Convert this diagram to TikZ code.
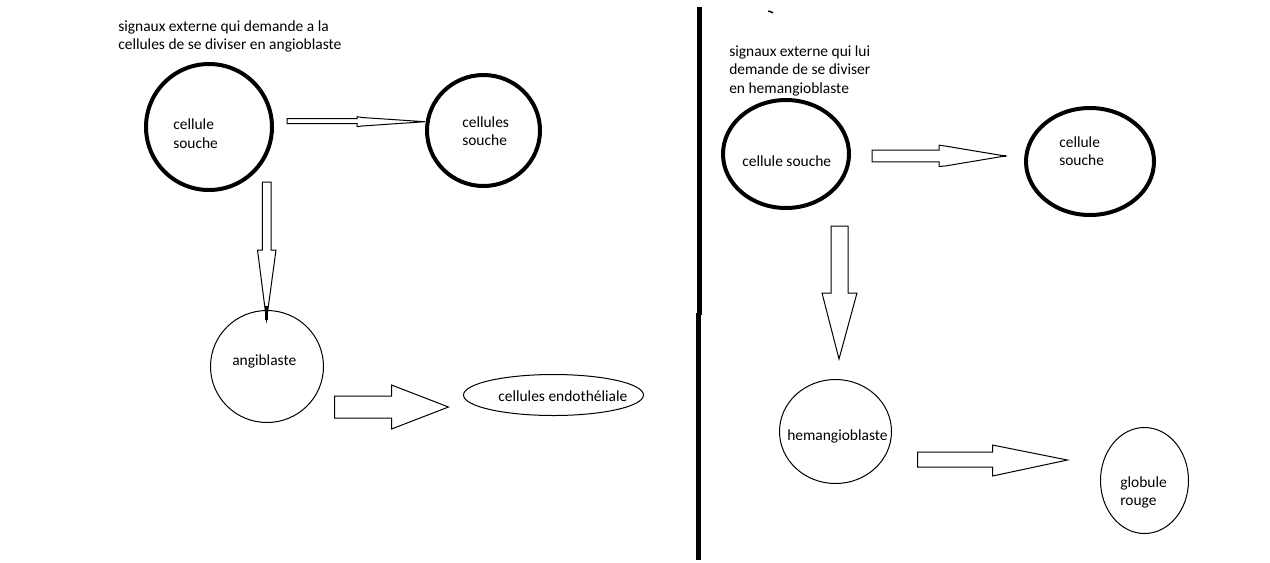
\documentclass[tikz,border=0pt]{standalone}
\usepackage{fontspec}
\setmainfont{Carlito}
\usetikzlibrary{shapes.geometric,calc}
\tikzset{
  px/.style={x=0.75pt,y=-0.75pt},
  cellthick/.style={draw,ellipse,line width=3pt,inner sep=0pt},
  cellthin/.style={draw,ellipse,line width=0.75pt,inner sep=0pt},
  lbl/.style={anchor=base west,inner sep=0pt,font=\fontsize{11.6}{14}\selectfont,text=black},
  blk/.style={draw,line width=0.75pt,line join=miter},
  divider/.style={line width=3.6pt}
}
\begin{document}
\begin{tikzpicture}[px]
\useasboundingbox (0,0) rectangle (1270,562);
% ---- left half
\node[lbl] (tl1) at (118,31) {signaux externe qui demande a la};
\node[lbl] (tl2) at (118,49) {cellules de se diviser en angioblaste};
\node[cellthick,minimum width=126*0.75pt,minimum height=126*0.75pt] (c1) at (209,127) {};
\node[lbl] (c1a) at (173,129) {cellule};
\node[lbl] (c1b) at (173,148) {souche};
\node[cellthick,minimum width=113*0.75pt,minimum height=111*0.75pt] (c2) at (483.5,130.5) {};
\node[lbl] (c2a) at (462,127) {cellules};
\node[lbl] (c2b) at (462,145) {souche};
\node[cellthin,minimum width=113*0.75pt,minimum height=112*0.75pt] (c3) at (267,366.5) {};
\node[lbl] (c3a) at (232,365) {angiblaste};
\node[cellthin,minimum width=180*0.75pt,minimum height=41*0.75pt] (e1) at (553.5,395) {};
\node[lbl] (e1a) at (498,401) {cellules endothéliale};
% arrows left
\coordinate (a1) at ($(c1.east)+(13,-6)$);
\draw[blk,shift={(a1)}] (0,-2.5) -- (70,-2.5) -- (70,-4.3) -- (75,-3.5) -- (138,0.7) -- (75,5) -- (70,5.7) -- (70,2.5) -- (0,2.5) -- cycle;
\coordinate (a2) at ($(c1.center)+(57.5,55)$);
\draw[blk,shift={(a2)}] (-4.2,0) -- (4.5,0) -- (4.5,68) -- (9.5,68) -- (0,138) -- (-9,68) -- (-4.2,68) -- cycle;
\draw[line width=1.6pt,shift={(a2)}] (0,124) -- (0,138);
\coordinate (a3) at ($(c3.east)+(10.5,40.5)$);
\draw[blk,shift={(a3)}] (0,-11) -- (57,-11) -- (57,-22) -- (114,0) -- (57,22) -- (57,11) -- (0,11) -- cycle;
% ---- divider
\draw[divider] (699.8,7) -- (699.8,314.5);
\draw[divider] (698.5,313) -- (698.5,560);
\draw[line width=1.1pt] (768,11.2) -- (770.5,11.6) -- (773,12.8);
% ---- right half
\node[lbl] (tr1) at (729,56) {signaux externe qui lui};
\node[lbl] (tr2) at (729,74.5) {demande de se diviser};
\node[lbl] (tr3) at (729,93) {en hemangioblaste};
\node[cellthick,minimum width=126*0.75pt,minimum height=108*0.75pt] (c4) at (786,154) {};
\node[lbl] (c4a) at (742,166) {cellule souche};
\node[cellthick,minimum width=128*0.75pt,minimum height=107*0.75pt] (c5) at (1090,161.5) {};
\node[lbl] (c5a) at (1059,147) {cellule};
\node[lbl] (c5b) at (1059,165.5) {souche};
\node[cellthin,minimum width=112*0.75pt,minimum height=104*0.75pt] (c6) at (835.5,431.5) {};
\node[lbl] (c6a) at (787,440) {hemangioblaste};
\node[cellthin,minimum width=88*0.75pt,minimum height=106*0.75pt] (c7) at (1144.5,480.5) {};
\node[lbl] (c7a) at (1120,487) {globule};
\node[lbl] (c7b) at (1120,505) {rouge};
% arrows right
\coordinate (a4) at ($(c4.east)+(21,2)$);
\draw[blk,shift={(a4)}] (0,-5.8) -- (67,-5.8) -- (67,-10.8) -- (73,-10) -- (133,0) -- (73,10) -- (67,10.5) -- (67,5.8) -- (0,5.8) -- cycle;
\draw[line width=1.3pt,shift={(a4)}] (128,0) -- (134,0);
\coordinate (a5) at ($(c4.south)+(53.5,16)$);
\draw[blk,shift={(a5)}] (-8.5,0) -- (8.5,0) -- (8.5,67) -- (17.5,67) -- (-0.5,133) -- (-17.5,67) -- (-8.5,67) -- cycle;
\coordinate (a6) at ($(c6.east)+(25.5,28)$);
\draw[blk,shift={(a6)}] (0,-7.5) -- (75,-7.5) -- (75,-14.5) -- (150,0.5) -- (75,16.5) -- (75,7.5) -- (0,7.5) -- cycle;
\end{tikzpicture}
\end{document}
